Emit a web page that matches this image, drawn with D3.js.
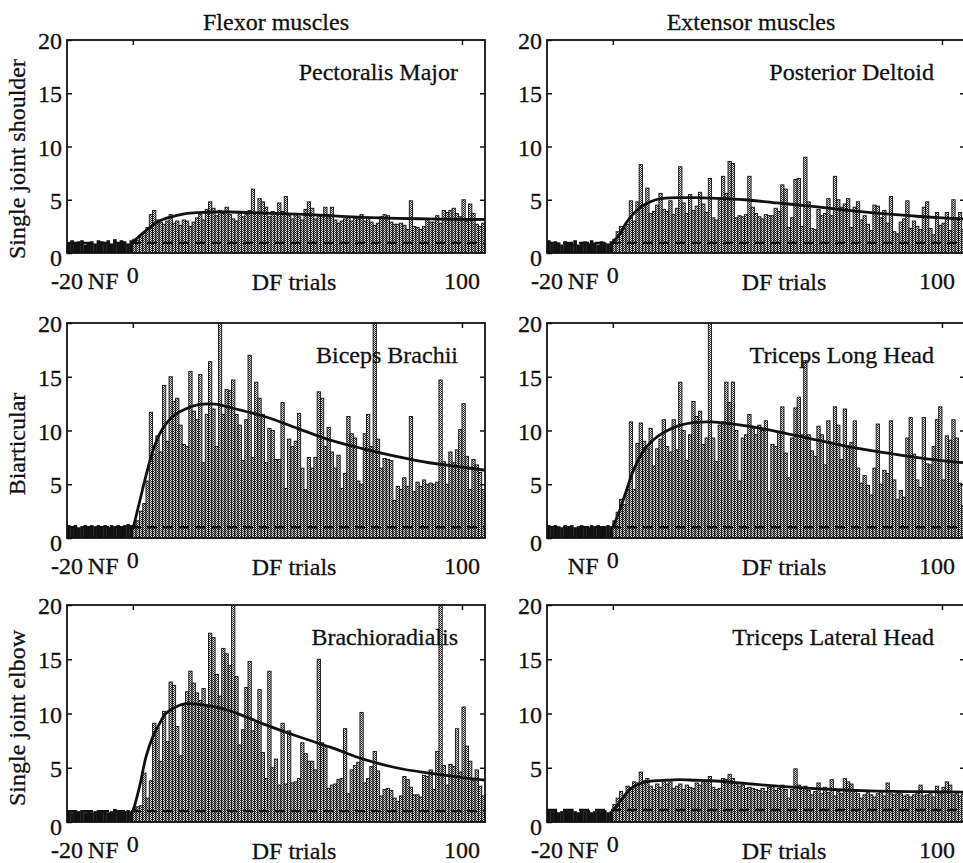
<!DOCTYPE html>
<html>
<head>
<meta charset="utf-8">
<script src="https://cdn.jsdelivr.net/npm/d3@7"></script>
<style>
  body { margin: 0; background: #fff; }
  text { font-family: "Liberation Serif", "Times New Roman", serif; fill: #111; stroke: #111; stroke-width: 0.3px; }
</style>
</head>
<body>
<svg id="chart" width="963" height="863"></svg>
<script>
// ---- data -------------------------------------------------------------
// Null-field trials (-19..0) and dynamic-field trials (1..107), EMG relative to NF level
const nfTrials = d3.range(-19, 1);
const dfTrials = d3.range(1, 108);

const muscleNames = ["Pectoralis Major", "Posterior Deltoid", "Biceps Brachii",
                     "Triceps Long Head", "Brachioradialis", "Triceps Lateral Head"];
const columnTitles = ["Flexor muscles", "Extensor muscles"];
const rowTitles = ["Single joint shoulder", "Biarticular", "Single joint elbow"];
const yTicks = [0, 5, 10, 15, 20];
const xTickLabels = ["-20", "0", "100"];

const nfPM  = [1.0,1.2,0.9,1.1,1.2,0.8,1.0,1.1,0.9,1.2,1.1,1.0,1.2,0.9,1.3,1.0,1.2,1.1,0.9,1.2];
const nfPD  = [1.2,0.9,1.1,1.0,0.8,1.1,1.0,0.9,1.2,0.8,1.0,1.1,0.9,1.2,1.0,0.8,1.1,1.0,0.9,1.1];
const nfBB  = [1.2,1.1,1.2,1.0,1.1,1.2,1.1,1.2,1.1,1.2,1.1,1.2,1.0,1.2,1.1,1.2,1.1,1.2,1.3,1.2];
const nfTLH = [1.2,1.1,1.2,1.1,1.0,1.2,1.1,1.2,1.0,1.1,1.2,1.1,1.0,1.2,1.1,1.2,1.0,1.1,1.2,1.1];
const nfBR  = [1.0,0.9,1.1,1.0,1.1,0.9,1.0,0.9,1.0,1.1,1.0,1.1,0.9,1.0,1.2,1.0,1.1,1.0,1.1,1.0];
const nfTLa = [1.1,1.0,1.1,0.9,1.0,1.1,1.0,1.2,1.0,0.9,1.1,1.0,1.1,0.9,1.0,1.1,1.0,1.1,0.9,1.0];

const dfPM = [1.3,1.2,1.5,1.9,2.4,
  3.6,4.0,3.1,2.9,2.7,3.0,3.6,2.8,3.0,2.6,
  3.1,3.0,2.5,2.9,3.3,3.6,3.1,4.1,4.8,4.2,
  3.5,4.0,3.7,4.3,3.6,3.2,3.0,3.9,3.4,3.6,
  4.0,6.0,3.8,5.1,4.8,4.3,3.4,3.9,3.8,4.7,
  3.9,5.3,3.5,3.2,3.6,3.4,3.1,4.1,4.8,4.2,
  3.2,3.5,3.5,4.3,3.3,4.3,3.1,2.8,3.0,3.2,
  3.4,3.0,3.3,3.2,3.6,3.0,3.3,2.9,2.6,2.8,
  3.4,3.6,3.5,2.9,2.7,2.7,2.8,2.6,2.2,4.9,
  2.5,2.4,2.2,2.5,3.2,2.9,2.9,3.5,2.8,4.0,
  3.8,4.0,4.2,3.7,3.4,5.0,3.0,4.6,3.7,2.7,
  2.5,2.8];

const dfPD = [1.3,2.0,2.5,2.3,2.7,4.9,3.0,4.8,8.3,4.5,
  6.1,3.7,3.9,4.5,5.6,4.1,3.9,4.9,3.6,4.2,
  8.1,4.7,3.7,5.5,4.0,4.4,5.7,4.6,3.8,7.0,
  3.3,3.1,5.2,7.2,5.6,8.6,8.4,3.3,3.5,3.4,
  3.6,7.2,4.3,3.7,3.4,3.2,3.6,3.5,3.5,4.2,3.9,
  6.4,6.0,2.4,3.3,6.9,7.0,2.5,9.0,4.8,2.3,
  2.2,4.1,3.5,3.7,5.1,3.5,7.2,5.0,4.3,4.6,
  5.1,2.4,4.3,4.8,3.1,3.5,2.7,2.1,4.5,4.4,
  3.3,4.0,2.8,5.3,2.0,1.8,2.9,3.2,4.9,2.3,3.0,
  2.5,2.2,4.3,4.8,2.3,1.7,3.8,2.6,2.8,3.8,
  2.1,5.0,3.3,3.8,2.2];

const dfBB = [1.2,1.6,2.5,3.2,5.3,
  11.7,7.8,9.5,8.0,14.2,9.0,15.0,12.7,13.0,10.5,
  8.7,8.5,15.5,11.8,11.0,15.2,7.0,11.5,16.4,12.0,
  8.5,22,11.5,13.8,13.7,14.7,11.5,10.5,7.2,11.0,
  17.0,7.5,14.5,13.0,11.5,7.0,10.2,10.0,7.3,7.3,
  12.6,4.6,9.2,8.5,9.0,11.6,6.5,4.5,7.5,6.5,
  7.5,13.6,13.0,8.5,10.3,8.0,6.5,7.7,4.6,6.0,
  11.3,9.7,9.3,5.3,5.0,9.7,11.5,8.5,22,9.2,
  6.5,7.4,7.3,7.2,3.5,4.8,4.5,5.6,4.8,11.3,
  4.3,5.2,4.8,5.4,5.0,5.1,5.0,5.2,14.7,7.1,
  5.0,8.0,7.0,8.2,10.1,12.5,7.6,4.5,7.3,6.8,
  6.1,4.5];

const dfTLH = [1.6,2.4,3.6,3.1,4.5,10.8,4.5,8.8,10.7,9.0,
  8.3,10.2,6.7,8.3,9.2,11.0,8.5,8.0,11.0,8.2,
  14.5,10.0,7.2,9.6,12.7,11.3,11.8,8.7,9.3,22,
  9.3,7.1,10.5,10.8,14.5,12.6,14.5,10.0,5.3,9.3,
  9.6,11.5,10.3,9.6,10.5,10.0,10.9,4.3,8.7,8.5,9.8,
  12.2,7.9,5.6,9.3,12.1,13.1,9.6,16.5,9.6,8.1,
  7.6,10.4,9.6,6.8,10.9,8.9,12.2,10.5,7.3,12.0,
  8.3,8.9,10.9,6.5,5.1,5.8,4.9,4.0,6.5,10.6,
  5.0,6.3,6.0,10.9,5.4,3.6,4.4,3.8,9.3,11.2,7.8,
  5.4,4.7,11.2,6.9,6.8,8.5,11.0,12.2,5.4,9.5,
  9.1,11.0,9.3,5.1,3.0];

const dfBR = [1.3,1.4,1.5,4.5,2.2,3.8,9.1,8.7,5.6,10.2,
  7.4,12.9,12.6,8.8,6.1,10.8,12.0,13.9,12.8,11.9,
  11.2,12.3,10.6,17.4,17.0,13.6,11.6,16.0,15.5,14.4,
  22,13.4,7.1,8.5,12.4,14.8,8.4,9.3,12.2,6.4,
  4.0,13.9,5.0,5.8,3.4,9.1,3.5,8.4,3.6,3.7,
  4.0,7.3,6.3,5.6,5.6,4.8,15.0,7.3,7.0,3.1,
  3.4,3.5,3.9,4.0,8.6,2.6,4.8,5.2,5.5,10.1,
  3.6,4.0,5.1,6.5,4.7,2.4,3.0,3.1,2.9,2.2,
  1.9,2.4,4.2,3.9,3.2,2.5,2.5,2.3,4.3,4.2,
  4.8,3.0,6.5,22,5.2,3.4,5.3,5.1,8.6,4.6,
  10.6,7.0,5.6,3.8,4.8,3.3,2.4];

const dfTLa = [1.6,2.2,2.8,2.3,3.3,3.2,3.7,3.6,4.6,3.8,
  4.0,3.3,3.0,3.5,3.2,3.9,3.5,3.7,3.1,3.3,
  3.5,3.0,3.4,3.2,3.1,3.6,3.4,3.7,3.8,4.2,
  3.2,3.0,3.1,4.0,3.9,4.4,4.0,3.6,3.3,3.4,
  3.1,3.2,3.1,3.0,2.9,3.1,2.8,3.2,3.3,2.9,3.1,
  3.4,3.0,2.2,3.0,4.9,3.4,3.1,3.3,2.9,2.5,
  2.8,3.6,2.6,3.2,2.7,3.9,2.4,2.8,2.6,4.0,
  3.7,3.5,3.0,2.6,2.2,2.5,2.7,2.5,2.3,2.6,
  2.8,2.4,3.6,2.6,2.5,2.7,2.6,2.4,2.5,2.3,2.5,
  2.6,3.4,2.4,2.5,2.6,2.3,3.3,2.6,3.2,3.7,
  3.4,2.5,2.6,2.4,2.6];

// fitted adaptation curves, sampled at these trials
const fitTrials = [0, 2, 4, 6, 8, 10, 13, 16, 20, 25, 30, 40, 50, 60, 70, 80, 90, 100, 107];
const fitPM  = [1.0,1.6,2.1,2.6,3.0,3.25,3.5,3.7,3.8,3.85,3.85,3.75,3.65,3.5,3.35,3.25,3.2,3.15,3.15];
const fitPD  = [1.0,1.7,2.8,3.6,4.2,4.6,5.0,5.15,5.2,5.2,5.15,5.0,4.7,4.4,4.05,3.75,3.5,3.3,3.2];
const fitBB  = [0.8,3.3,5.8,8.0,9.6,10.6,11.5,12.0,12.4,12.45,12.1,11.3,10.2,9.1,8.3,7.6,7.0,6.6,6.3];
const fitTLH = [1.0,2.5,4.3,6.1,7.4,8.4,9.3,9.9,10.45,10.75,10.8,10.45,9.9,9.25,8.6,8.05,7.6,7.2,7.0];
const fitBR  = [0.9,3.2,6.0,7.8,9.0,10.0,10.6,10.9,10.85,10.6,10.2,9.0,7.9,6.9,5.8,5.0,4.5,4.1,3.85];
const fitTLa = [1.0,1.8,2.6,3.2,3.5,3.7,3.8,3.85,3.9,3.85,3.8,3.55,3.3,3.1,2.95,2.85,2.8,2.78,2.75];

// NF reference level (dashed line)
const nfLevel = [0.95, 0.95, 1.0, 1.0, 1.0, 1.1];

// ---- layout -----------------------------------------------------------
const colLeft = [67, 547];
const plotW = 418;
const rowTop = [40, 323, 605];
const rowBottom = [253, 538, 822];
const rowTitleY = [159, 444, 718];
const dfLabelTrial = [49, 52];
const fontPx = "24px";

const panels = [
  { name: muscleNames[0], row: 0, col: 0, nf: nfPM,  df: dfPM,  fit: fitPM,  base: nfLevel[0], minus20: true },
  { name: muscleNames[1], row: 0, col: 1, nf: nfPD,  df: dfPD,  fit: fitPD,  base: nfLevel[1], minus20: true },
  { name: muscleNames[2], row: 1, col: 0, nf: nfBB,  df: dfBB,  fit: fitBB,  base: nfLevel[2], minus20: true },
  { name: muscleNames[3], row: 1, col: 1, nf: nfTLH, df: dfTLH, fit: fitTLH, base: nfLevel[3], minus20: false },
  { name: muscleNames[4], row: 2, col: 0, nf: nfBR,  df: dfBR,  fit: fitBR,  base: nfLevel[4], minus20: true },
  { name: muscleNames[5], row: 2, col: 1, nf: nfTLa, df: dfTLa, fit: fitTLa, base: nfLevel[5], minus20: true }
];

const svg = d3.select("#chart");

// halftone checker fill for the DF bars
const defs = svg.append("defs");
const pat = defs.append("pattern").attr("id", "stipple")
  .attr("width", 2).attr("height", 2).attr("patternUnits", "userSpaceOnUse");
pat.append("rect").attr("width", 2).attr("height", 2).attr("fill", "#e6e6e6");
pat.append("rect").attr("width", 1).attr("height", 1).attr("fill", "#222");
pat.append("rect").attr("x", 1).attr("y", 1).attr("width", 1).attr("height", 1).attr("fill", "#444");

// column headers
columnTitles.forEach((t, i) => {
  svg.append("text")
    .attr("x", colLeft[i] + plotW / 2 - (i ? 5 : 0)).attr("y", 30)
    .attr("text-anchor", "middle").style("font-size", fontPx).text(t);
});

// row titles (rotated)
rowTitles.forEach((t, i) => {
  svg.append("text")
    .attr("transform", `translate(25,${rowTitleY[i]}) rotate(-90)`)
    .attr("text-anchor", "middle").style("font-size", fontPx).text(t);
});

panels.forEach((p, idx) => {
  const x0 = colLeft[p.col], top = rowTop[p.row], bottom = rowBottom[p.row];
  const h = bottom - top;
  const g = svg.append("g").attr("transform", `translate(${x0},${top})`);

  const x = d3.scaleLinear().domain([-20, 107]).range([0, plotW]);
  const y = d3.scaleLinear().domain([0, 20]).range([h, 0]);

  const clipId = "clip" + idx;
  defs.append("clipPath").attr("id", clipId)
    .append("rect").attr("width", plotW).attr("height", h);

  const body = g.append("g").attr("clip-path", `url(#${clipId})`);

  // null-field bars (solid black)
  body.selectAll("rect.nf").data(nfTrials.map((t, i) => ({ t, v: p.nf[i] })))
    .join("rect").attr("class", "nf")
    .attr("x", d => x(d.t - 1)).attr("width", d => x(d.t) - x(d.t - 1) + 0.3)
    .attr("y", d => y(d.v)).attr("height", d => y(0) - y(d.v))
    .attr("fill", "#111");

  // dynamic-field bars
  body.selectAll("rect.df").data(p.df.map((v, i) => ({ t: dfTrials[i], v })))
    .join("rect").attr("class", "df")
    .attr("x", d => x(d.t - 1)).attr("width", d => x(d.t) - x(d.t - 1))
    .attr("y", d => y(d.v)).attr("height", d => y(0) - y(d.v))
    .attr("fill", "url(#stipple)").attr("stroke", "#111").attr("stroke-width", 0.9);

  // NF reference level
  body.append("line")
    .attr("x1", x(-20)).attr("x2", x(107))
    .attr("y1", y(p.base)).attr("y2", y(p.base))
    .attr("stroke", "#111").attr("stroke-width", 2.4).attr("stroke-dasharray", "10,6");

  // fitted curve
  const line = d3.line().x((d, i) => x(fitTrials[i])).y(d => y(d)).curve(d3.curveCatmullRom.alpha(0.5));
  body.append("path").datum(p.fit).attr("d", line)
    .attr("fill", "none").attr("stroke", "#111").attr("stroke-width", 2.8);

  // axes with inward ticks
  const left = g.append("g").call(d3.axisLeft(y).tickValues(yTicks).tickSize(-5).tickSizeOuter(0).tickPadding(5));
  const right = g.append("g").attr("transform", `translate(${plotW},0)`)
    .call(d3.axisRight(y).tickValues([5, 10, 15]).tickSize(-5).tickSizeOuter(0).tickFormat(""));
  const topAx = g.append("g")
    .call(d3.axisTop(x).tickValues([0, 100]).tickSize(-5).tickSizeOuter(0).tickFormat(""));
  [left, right, topAx].forEach(a => {
    a.select(".domain").remove();
    a.selectAll("line").attr("stroke", "#111").attr("stroke-width", 1.5);
  });
  left.selectAll("text")
    .style("font-size", fontPx).style("font-family", "'Liberation Serif', serif")
    .attr("fill", "#111").attr("stroke", "#111").attr("stroke-width", 0.3)
    .attr("dy", d => d === 0 ? "0.5em" : "0.36em");

  // frame
  g.append("rect").attr("width", plotW).attr("height", h)
    .attr("fill", "none").attr("stroke", "#111").attr("stroke-width", 1.8);

  // x labels
  const lb = h + 36;
  if (p.minus20) {
    g.append("text").attr("x", x(-20)).attr("y", lb).attr("text-anchor", "middle")
      .style("font-size", fontPx).text(xTickLabels[0]);
  }
  g.append("text").attr("x", x(-9)).attr("y", lb).attr("text-anchor", "middle")
    .style("font-size", fontPx).text("NF");
  g.append("text").attr("x", x(0)).attr("y", lb - 6).attr("text-anchor", "middle")
    .style("font-size", fontPx).text(xTickLabels[1]);
  g.append("text").attr("x", x(dfLabelTrial[p.col])).attr("y", lb + 1).attr("text-anchor", "middle")
    .style("font-size", fontPx).text("DF trials");
  g.append("text").attr("x", x(100) - (p.col ? 5 : 0)).attr("y", lb).attr("text-anchor", "middle")
    .style("font-size", fontPx).text(xTickLabels[2]);

  // muscle name
  g.append("text").attr("x", plotW - (p.col ? 31 : 27)).attr("y", 40)
    .attr("text-anchor", "end").style("font-size", fontPx).text(p.name);
});
</script>
</body>
</html>
